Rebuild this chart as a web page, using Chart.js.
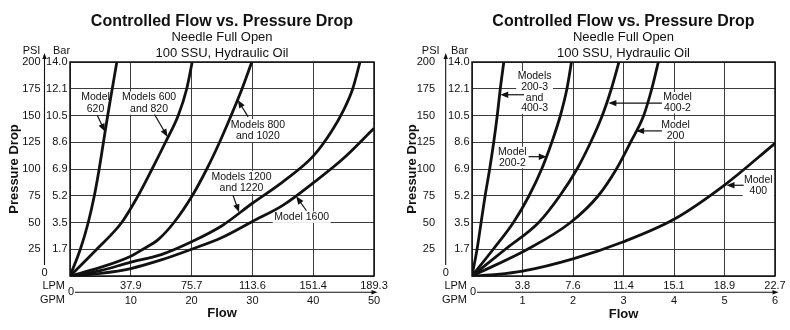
<!DOCTYPE html>
<html>
<head>
<meta charset="utf-8">
<script src="https://cdn.jsdelivr.net/npm/chart.js@4"></script>
<style>
  html, body { margin: 0; padding: 0; background: #fff; }
  #wrap { position: relative; width: 790px; height: 330px; }
  canvas { position: absolute; top: 0; }
  #left { left: 0; }
  #right { left: 395px; }
</style>
</head>
<body>
<div id="wrap">
  <canvas id="left" width="395" height="330"></canvas>
  <canvas id="right" width="395" height="330"></canvas>
</div>
<script>
// ---- tick labels ----
const barLabels = ['', '1.7', '3.5', '5.2', '6.9', '8.6', '10.5', '12.1', '14.0'];
const lpmLeft = ['', '37.9', '75.7', '113.6', '151.4', '189.3'];
const lpmRight = ['', '3.8', '7.6', '11.4', '15.1', '18.9', '22.7'];

// ---- left chart curves, [GPM, PSI] ----
const m620 = [[0, 0], [1.7, 25], [3.0, 50], [4.0, 75], [4.8, 100], [5.5, 125], [6.2, 150], [6.95, 175], [7.7, 200]];
const m600 = [[0, 0], [4.4, 25], [8.5, 50], [11.2, 75], [13.5, 100], [15.7, 125], [17.8, 150], [19.2, 175], [20.1, 200]];
const m800 = [[0, 0], [5, 8], [10, 18.5], [12, 25], [14.5, 34], [17.1, 50], [20.1, 75], [22.5, 100], [24.6, 125], [26.5, 150], [28.3, 175], [29.9, 200]];
const m1200 = [[0, 0], [5, 5], [10, 13], [15, 20], [20, 32], [25, 47], [30, 68], [35, 88], [40, 112], [43, 135], [45, 155], [46.5, 175], [47.7, 200]];
const m1600 = [[0, 0], [5, 2.5], [10, 7], [15, 15], [20, 25], [25, 36], [30, 51], [35, 66], [40, 87], [45, 110], [50, 138]];

// ---- right chart curves ----
const m2003 = [[0, 0], [0.1, 25], [0.18, 50], [0.26, 75], [0.35, 100], [0.43, 125], [0.5, 150], [0.56, 175], [0.63, 200]];
const m2002 = [[0, 0], [0.42, 25], [0.82, 50], [1.13, 75], [1.38, 100], [1.58, 125], [1.75, 150], [1.88, 175], [1.97, 200]];
const m4002 = [[0, 0], [0.66, 25], [1.32, 50], [1.74, 75], [2.08, 100], [2.35, 125], [2.58, 150], [2.76, 175], [2.91, 200]];
const m200 = [[0, 0], [1.1, 25], [1.95, 50], [2.5, 75], [2.86, 100], [3.14, 125], [3.4, 150], [3.56, 175], [3.69, 200]];
const m400 = [[0, 0], [0.5, 1.5], [1, 4.5], [2, 16], [3, 32], [4, 53], [5, 85], [6, 124]];

const FONT = '"Liberation Sans", Arial, Helvetica, sans-serif';
const INK = '#111';
const GRID = '#3c3c3c';
Chart.defaults.font.family = FONT;
Chart.defaults.color = INK;

// callouts: text block centre and arrow, in GPM / PSI units
const notesLeft = [
  { lines: ['Model', '620'], at: [4.2, 161.5], from: [4.5, 150], to: [5.75, 135] },
  { lines: ['Models 600', 'and 820'], at: [13.0, 161.5], from: [13.9, 151], to: [16.05, 130] },
  { lines: ['Models 800', 'and 1020'], at: [30.9, 136], from: [29.3, 148.7], to: [27.6, 164.5] },
  { lines: ['Models 1200', 'and 1220'], at: [28.2, 87.5], from: [26.8, 75.6], to: [27.8, 59.5] },
  { lines: ['Model 1600'], at: [38.1, 55], from: [38.9, 61], to: [37.2, 74.5] }
];
const notesRight = [
  { lines: ['Models', '200-3', 'and', '400-3'], at: [1.24, 171.5], from: [1.03, 169.4], to: [0.56, 169.4] },
  { lines: ['Model', '400-2'], at: [4.07, 162], from: [3.76, 161.6], to: [2.7, 161.6] },
  { lines: ['Model', '200'], at: [4.03, 136], from: [3.76, 135.6], to: [3.25, 135.6] },
  { lines: ['Model', '200-2'], at: [0.8, 110.7], from: [1.12, 111.5], to: [1.48, 111.5] },
  { lines: ['Model', '400'], at: [5.67, 84.5], from: [5.38, 84.8], to: [5.04, 84.8] }
];

function arrow(ctx, x1, y1, x2, y2, head, half) {
  const a = Math.atan2(y2 - y1, x2 - x1);
  const c = Math.cos(a), s = Math.sin(a);
  ctx.beginPath();
  ctx.moveTo(x1, y1);
  ctx.lineTo(x2 - c * head * 0.7, y2 - s * head * 0.7);
  ctx.stroke();
  ctx.beginPath();
  ctx.moveTo(x2, y2);
  ctx.lineTo(x2 - head * c + half * s, y2 - head * s - half * c);
  ctx.lineTo(x2 - head * c - half * s, y2 - head * s + half * c);
  ctx.closePath();
  ctx.fill();
}

function buildChart(id, spec) {
  const decor = {
    id: 'decor',
    beforeDatasetsDraw(chart) {
      const ctx = chart.ctx, sx = chart.scales.x, sy = chart.scales.y;
      ctx.save();
      ctx.font = '10.5px ' + FONT;
      ctx.textAlign = 'center';
      ctx.textBaseline = 'middle';
      spec.notes.forEach(n => {
        const cx = sx.getPixelForValue(n.at[0]);
        const cy = sy.getPixelForValue(n.at[1]);
        const lh = spec.noteLine;
        const w = Math.max(...n.lines.map(t => ctx.measureText(t).width));
        const h = lh * n.lines.length;
        ctx.fillStyle = '#fff';
        ctx.fillRect(cx - w / 2 - 1.5, cy - h / 2, w + 3, h);
        ctx.fillStyle = INK;
        n.lines.forEach((t, i) => ctx.fillText(t, cx, cy - h / 2 + lh * (i + 0.5)));
      });
      ctx.restore();
    },
    afterDatasetsDraw(chart) {
      const ctx = chart.ctx, sx = chart.scales.x, sy = chart.scales.y;
      ctx.save();
      ctx.strokeStyle = INK;
      ctx.fillStyle = INK;
      ctx.lineWidth = 1.2;
      spec.notes.forEach(n => {
        arrow(ctx, sx.getPixelForValue(n.from[0]), sy.getPixelForValue(n.from[1]),
          sx.getPixelForValue(n.to[0]), sy.getPixelForValue(n.to[1]), 8, 3.2);
      });
      ctx.restore();
    },
    afterDraw(chart) {
      const ctx = chart.ctx, ca = chart.chartArea;
      ctx.save();
      // frame
      ctx.strokeStyle = INK;
      ctx.lineWidth = 1.5;
      ctx.strokeRect(ca.left, ca.top, ca.right - ca.left, ca.bottom - ca.top);
      // titles
      const cx = (ca.left + ca.right) / 2;
      ctx.fillStyle = INK;
      ctx.textAlign = 'center';
      ctx.textBaseline = 'alphabetic';
      ctx.font = 'bold 16px ' + FONT;
      ctx.fillText('Controlled Flow vs. Pressure Drop', cx, 26);
      ctx.font = '13px ' + FONT;
      ctx.fillText('Needle Full Open', cx, 40.5);
      ctx.fillText('100 SSU, Hydraulic Oil', cx, 56.5);
      // vertical unit arrow
      ctx.lineWidth = 1.1;
      arrow(ctx, spec.yArrowX, ca.bottom - 11, spec.yArrowX, ca.top - 9, 6, 2.2);
      ctx.font = '11px ' + FONT;
      ctx.textBaseline = 'middle';
      ctx.fillText('PSI', spec.psiHeadX, 50.5);
      ctx.fillText('Bar', spec.barHeadX, 50.5);
      ctx.fillText('0', spec.yArrowX, ca.bottom - 3);
      // horizontal unit arrow
      const ay = ca.bottom + 16.3;
      arrow(ctx, ca.left + 5, ay, ca.right + 3.5, ay, 6, 2.2);
      ctx.fillText('0', ca.left + 1, ay);
      ctx.textAlign = 'right';
      ctx.fillText('LPM', ca.left - 5, ca.bottom + 9.5);
      ctx.fillText('GPM', ca.left - 5, ca.bottom + 24);
      ctx.restore();
    }
  };

  const tickFont = { size: 11 };
  return new Chart(document.getElementById(id).getContext('2d'), {
    type: 'line',
    data: {
      datasets: spec.series.map(s => ({
        label: s.name,
        data: s.points.map(p => ({ x: p[0], y: p[1] })),
        borderColor: INK,
        borderWidth: 2.8,
        pointRadius: 0,
        cubicInterpolationMode: 'monotone',
        fill: false
      }))
    },
    options: {
      responsive: false,
      animation: false,
      layout: { padding: { top: 62, right: spec.padRight, bottom: 0, left: 0 } },
      plugins: { legend: { display: false }, tooltip: { enabled: false } },
      scales: {
        x: {
          type: 'linear', position: 'bottom', weight: 1,
          min: 0, max: spec.gpmMax,
          ticks: { stepSize: spec.gpmStep, padding: 2, font: tickFont, callback: v => v === 0 ? '' : v },
          grid: { color: GRID, lineWidth: 1, drawTicks: false },
          border: { display: false },
          title: { display: true, text: 'Flow', font: { size: 13, weight: 'bold' }, padding: { top: 0, bottom: spec.flowPad } },
          afterFit: s => { s.height = 38; }
        },
        lpm: {
          type: 'linear', position: 'bottom', weight: 0,
          min: 0, max: spec.gpmMax,
          ticks: { stepSize: spec.gpmStep, padding: 3, font: tickFont, callback: v => spec.lpmLabels[Math.round(v / spec.gpmStep)] },
          grid: { display: false, drawTicks: false },
          border: { display: false },
          afterFit: s => { s.height = 16; }
        },
        y: {
          position: 'left', weight: 1,
          min: 0, max: 200,
          ticks: { stepSize: 25, padding: spec.psiPad, font: tickFont, callback: v => v === 0 ? '' : v },
          grid: { display: false, drawTicks: false },
          border: { display: false },
          title: { display: true, text: 'Pressure Drop', font: { size: 13, weight: 'bold' }, padding: { top: spec.yTitlePad, bottom: 0 } },
          afterFit: s => { s.width = spec.psiWidth; }
        },
        bar: {
          position: 'left', weight: 0,
          min: 0, max: 200,
          ticks: { stepSize: 25, padding: 2.5, font: tickFont, callback: v => barLabels[Math.round(v / 25)] },
          grid: { color: GRID, lineWidth: 1, drawTicks: false },
          border: { display: false },
          afterFit: s => { s.width = spec.barWidth; }
        }
      }
    },
    plugins: [decor]
  });
}

buildChart('left', {
  series: [
    { name: 'Model 620', points: m620 },
    { name: 'Models 600 and 820', points: m600 },
    { name: 'Models 800 and 1020', points: m800 },
    { name: 'Models 1200 and 1220', points: m1200 },
    { name: 'Model 1600', points: m1600 }
  ],
  notes: notesLeft,
  noteLine: 11.5,
  lpmLabels: lpmLeft,
  gpmMax: 50, gpmStep: 10,
  padRight: 21, psiWidth: 45, barWidth: 25, psiPad: 4.5,
  yTitlePad: 7, flowPad: 9,
  yArrowX: 44.5, psiHeadX: 31.5, barHeadX: 61.5
});

buildChart('right', {
  series: [
    { name: 'Models 200-3 and 400-3', points: m2003 },
    { name: 'Model 200-2', points: m2002 },
    { name: 'Model 400-2', points: m4002 },
    { name: 'Model 200', points: m200 },
    { name: 'Model 400', points: m400 }
  ],
  notes: notesRight,
  noteLine: 10.7,
  lpmLabels: lpmRight,
  gpmMax: 6, gpmStep: 1,
  padRight: 15, psiWidth: 51, barWidth: 26, psiPad: 11,
  yTitlePad: 9.5, flowPad: 8,
  yArrowX: 50.7, psiHeadX: 35.7, barHeadX: 64.5
});
</script>
</body>
</html>
